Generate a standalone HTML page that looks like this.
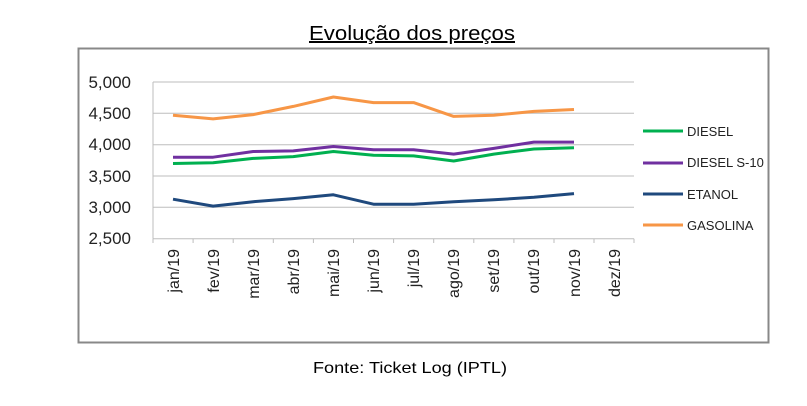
<!DOCTYPE html>
<html><head><meta charset="utf-8"><style>body{margin:0;background:#fff}</style></head><body>
<svg width="807" height="401" xmlns="http://www.w3.org/2000/svg" font-family="Liberation Sans, sans-serif">
<rect width="807" height="401" fill="#fff"/>
<text x="412" y="40" font-size="20" text-anchor="middle" fill="#000" text-decoration="underline" textLength="206" lengthAdjust="spacingAndGlyphs">Evolução dos preços</text>
<rect x="78.5" y="48.5" width="690" height="294" fill="none" stroke="#888" stroke-width="2"/>
<g stroke="#bdbdbd" stroke-width="1">
<line x1="153" y1="82" x2="634" y2="82"/><line x1="153" y1="113.3" x2="634" y2="113.3"/>
<line x1="153" y1="144.7" x2="634" y2="144.7"/><line x1="153" y1="176" x2="634" y2="176"/>
<line x1="153" y1="207.3" x2="634" y2="207.3"/><line x1="153" y1="238.7" x2="634" y2="238.7"/>
<line x1="153" y1="82" x2="153" y2="238.7"/>
<line x1="153" y1="238.7" x2="153" y2="243"/><line x1="193.1" y1="238.7" x2="193.1" y2="243"/><line x1="233.2" y1="238.7" x2="233.2" y2="243"/><line x1="273.3" y1="238.7" x2="273.3" y2="243"/><line x1="313.4" y1="238.7" x2="313.4" y2="243"/><line x1="353.5" y1="238.7" x2="353.5" y2="243"/><line x1="393.6" y1="238.7" x2="393.6" y2="243"/><line x1="433.7" y1="238.7" x2="433.7" y2="243"/><line x1="473.8" y1="238.7" x2="473.8" y2="243"/><line x1="513.9" y1="238.7" x2="513.9" y2="243"/><line x1="554" y1="238.7" x2="554" y2="243"/><line x1="594" y1="238.7" x2="594" y2="243"/><line x1="634" y1="238.7" x2="634" y2="243"/>
</g>
<g font-size="17" fill="#222" text-anchor="end">
<text x="131" y="88">5,000</text><text x="131" y="119">4,500</text><text x="131" y="150">4,000</text><text x="131" y="182">3,500</text><text x="131" y="213">3,000</text><text x="131" y="244">2,500</text>
</g>
<g font-size="16" fill="#222" text-anchor="end">
<text transform="translate(179,249) rotate(-90)">jan/19</text>
<text transform="translate(219,249) rotate(-90)">fev/19</text>
<text transform="translate(259,249) rotate(-90)">mar/19</text>
<text transform="translate(299,249) rotate(-90)">abr/19</text>
<text transform="translate(339,249) rotate(-90)">mai/19</text>
<text transform="translate(379,249) rotate(-90)">jun/19</text>
<text transform="translate(419,249) rotate(-90)">jul/19</text>
<text transform="translate(459,249) rotate(-90)">ago/19</text>
<text transform="translate(499,249) rotate(-90)">set/19</text>
<text transform="translate(539,249) rotate(-90)">out/19</text>
<text transform="translate(580,249) rotate(-90)">nov/19</text>
<text transform="translate(620,249) rotate(-90)">dez/19</text>
</g>
<g fill="none" stroke-width="3" stroke-linejoin="round">
<polyline stroke="#f79646" points="173,115.2 213.1,118.9 253.2,114.6 293.3,106.4 333.4,97 373.5,102.6 413.6,102.6 453.7,116.4 493.8,115.2 533.9,111.4 574,109.5"/>
<polyline stroke="#7030a0" points="173,157.2 213.1,157.2 253.2,151.5 293.3,150.9 333.4,146.5 373.5,149.7 413.6,149.7 453.7,154.1 493.8,148.4 533.9,142.1 574,142.1"/>
<polyline stroke="#00b050" points="173,163.5 213.1,162.8 253.2,158.4 293.3,156.6 333.4,151.5 373.5,155.3 413.6,155.9 453.7,161 493.8,154.1 533.9,149 574,147.8"/>
<polyline stroke="#1f497d" points="173,199.2 213.1,206.1 253.2,201.7 293.3,198.6 333.4,194.8 373.5,204.2 413.6,204.2 453.7,201.7 493.8,199.8 533.9,197.3 574,193.6"/>
</g>
<g stroke-width="3">
<line x1="643" y1="131" x2="683" y2="131" stroke="#00b050"/>
<line x1="643" y1="163" x2="683" y2="163" stroke="#7030a0"/>
<line x1="643" y1="194" x2="683" y2="194" stroke="#1f497d"/>
<line x1="643" y1="225" x2="683" y2="225" stroke="#f79646"/>
</g>
<g font-size="13" fill="#222">
<text x="687" y="136">DIESEL</text><text x="687" y="167">DIESEL S-10</text><text x="687" y="199">ETANOL</text><text x="687" y="230">GASOLINA</text>
</g>
<text x="410" y="373" font-size="16" text-anchor="middle" fill="#000" textLength="194" lengthAdjust="spacingAndGlyphs">Fonte: Ticket Log (IPTL)</text>
</svg>
</body></html>
